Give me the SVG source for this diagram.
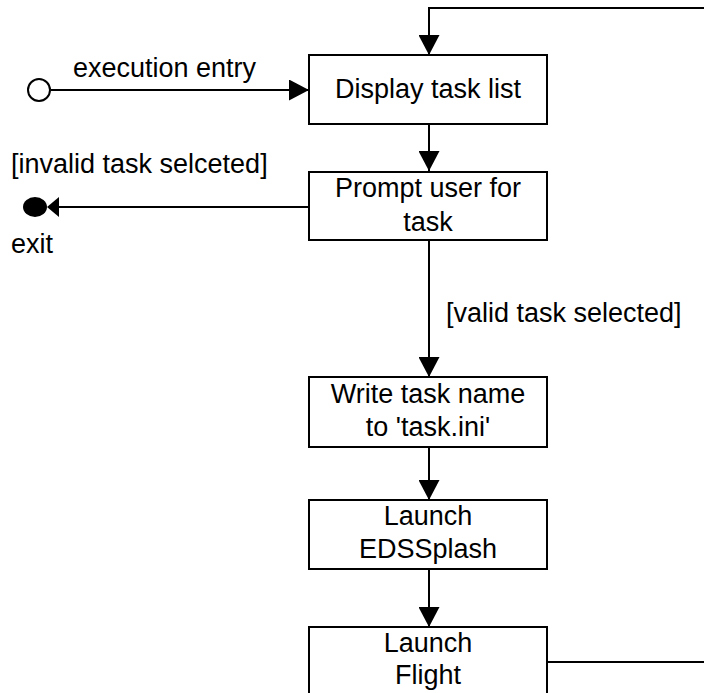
<svg xmlns="http://www.w3.org/2000/svg" width="704" height="693" viewBox="0 0 704 693">
<defs>
<style>
.box{fill:#fff;stroke:#000;stroke-width:2}
.ln{fill:none;stroke:#000;stroke-width:2}
.t{font-family:"Liberation Sans",Arial,sans-serif;font-size:27px;fill:#000}
.c{text-anchor:middle}
</style>
<marker id="ah" viewBox="0 0 20 21" refX="20" refY="10.5" markerWidth="20" markerHeight="21" markerUnits="userSpaceOnUse" orient="auto">
<path d="M0,0 L20,10.5 L0,21 Z" fill="#000"/>
</marker>
</defs>
<g id="connectors">
<path class="ln" d="M51,90 H309" marker-end="url(#ah)"/>
<path class="ln" d="M704,8 H429 V55" marker-end="url(#ah)"/>
<path class="ln" d="M429,124 V171" marker-end="url(#ah)"/>
<path class="ln" d="M309,207 H59"/>
<polygon points="47,207 59,197 59,217" fill="#000"/>
<path class="ln" d="M429,240 V377" marker-end="url(#ah)"/>
<path class="ln" d="M429,447 V500" marker-end="url(#ah)"/>
<path class="ln" d="M429,569 V627" marker-end="url(#ah)"/>
<path class="ln" d="M547,662 H704"/>
<text class="t" x="73" y="77">execution entry</text>
<text class="t" x="11" y="173">[invalid task selceted]</text>
<text class="t" x="446" y="322">[valid task selected]</text>
</g>
<g id="entry">
<circle cx="39" cy="90" r="11" fill="#fff" stroke="#000" stroke-width="2"/>
</g>
<g id="exit">
<ellipse cx="35" cy="207" rx="12" ry="10" fill="#000"/>
<text class="t" x="11" y="253">exit</text>
</g>
<g id="display">
<rect class="box" x="309" y="55" width="238" height="69"/>
<text class="t c" x="428" y="98">Display task list</text>
</g>
<g id="prompt">
<rect class="box" x="309" y="172" width="238" height="68"/>
<text class="t c" x="428" y="197">Prompt user for</text>
<text class="t c" x="428" y="231">task</text>
</g>
<g id="write">
<rect class="box" x="309" y="377" width="238" height="70"/>
<text class="t c" x="428" y="403">Write task name</text>
<text class="t c" x="428" y="436">to 'task.ini'</text>
</g>
<g id="edssplash">
<rect class="box" x="309" y="500" width="238" height="69"/>
<text class="t c" x="428" y="525">Launch</text>
<text class="t c" x="428" y="558">EDSSplash</text>
</g>
<g id="flight">
<rect class="box" x="309" y="627" width="238" height="80"/>
<text class="t c" x="428" y="652">Launch</text>
<text class="t c" x="428" y="684">Flight</text>
</g>
</svg>
